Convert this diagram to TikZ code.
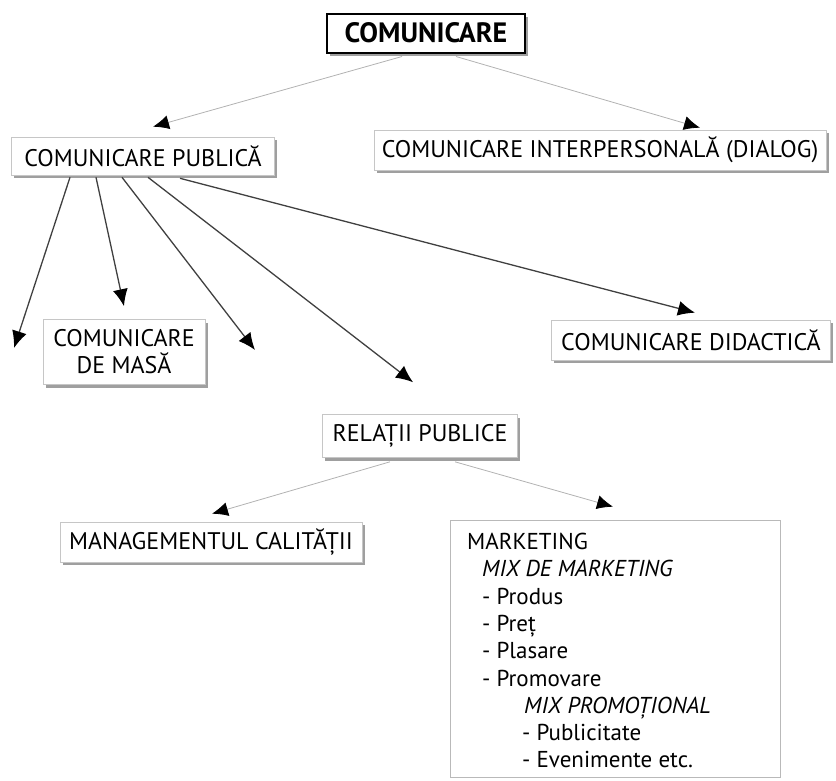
\documentclass[tikz,border=0pt]{standalone}
\usepackage{fontspec}
\setmainfont{PT Sans}
\usetikzlibrary{arrows.meta,shadows}
\begin{document}
\begin{tikzpicture}[x=1pt,y=-1pt,
  box/.style={draw=gray!45, line width=0.6pt, fill=white, inner sep=0pt, align=center,
    font=\fontsize{24}{28}\selectfont,
    drop shadow={shadow xshift=2.5pt,shadow yshift=-3pt,fill=gray!75,opacity=1}},
  topbox/.style={draw=black, line width=2pt, fill=white, inner sep=0pt,
    font=\fontsize{28}{30}\selectfont\bfseries,
    drop shadow={shadow xshift=2.5pt,shadow yshift=-3pt,fill=gray!75,opacity=1}},
  plainbox/.style={draw=gray!55, line width=0.6pt, fill=white, inner sep=0pt},
  lite/.style={draw=gray!60, line width=0.8pt, -{Latex[length=16pt,width=14pt,black]}},
  dark/.style={draw=black!75, line width=1.3pt, -{Latex[length=17pt,width=15pt,black]}},
]
\useasboundingbox (0,0) rectangle (836,780);

\node[topbox, minimum width=198pt, minimum height=39pt] (top) at (426,33) {COMUNICARE};
\node[box, minimum width=263pt, minimum height=38pt] (pub) at (143,156) {COMUNICARE PUBLICĂ};
\node[box, minimum width=452pt, minimum height=40pt] (inter) at (600,150) {COMUNICARE INTERPERSONALĂ (DIALOG)};
\node[box, minimum width=162pt, minimum height=65pt, font=\fontsize{24}{27}\selectfont] (masa) at (124,352) {COMUNICARE\\DE MASĂ};
\node[box, minimum width=279pt, minimum height=40pt] (did) at (691,340) {COMUNICARE DIDACTICĂ};
\node[box, minimum width=195pt, minimum height=43pt] (rel) at (420,436) {RELAȚII PUBLICE};
\node[box, minimum width=302pt, minimum height=40pt] (man) at (211,542) {MANAGEMENTUL CALITĂȚII};
\node[plainbox, minimum width=330pt, minimum height=257pt] (mkt) at (615,648.5) {};
\node[anchor=north west, inner sep=0pt, align=left, font=\fontsize{23}{27.3}\selectfont]
  (mkttext) at (467,533) {MARKETING\\
  \hspace*{15pt}\textit{MIX DE MARKETING}\\
  \hspace*{15pt}- Produs\\
  \hspace*{15pt}- Preț\\
  \hspace*{15pt}- Plasare\\
  \hspace*{15pt}- Promovare\\
  \hspace*{57pt}\textit{MIX PROMOȚIONAL}\\
  \hspace*{55pt}- Publicitate\\
  \hspace*{55pt}- Evenimente etc.};

\coordinate (e1) at (14,348);
\coordinate (e3) at (255,350);

\draw[lite] ([xshift=-24pt,yshift=-3pt]top.south) -- ([xshift=10pt,yshift=10pt]pub.north);
\draw[lite] ([xshift=30pt,yshift=-3pt]top.south) -- ([xshift=100pt,yshift=2pt]inter.north);

\draw[dark] ([xshift=-73pt,yshift=-2pt]pub.south) -- (e1);
\draw[dark] ([xshift=-47pt,yshift=-2pt]pub.south) -- ([yshift=13pt]masa.north);
\draw[dark] ([xshift=-21pt,yshift=-2pt]pub.south) -- (e3);
\draw[dark] ([xshift=5pt,yshift=-2pt]pub.south) -- ([xshift=-7pt,yshift=32pt]rel.north);
\draw[dark] ([xshift=37pt,yshift=-3pt]pub.south) -- ([xshift=4pt,yshift=7pt]did.north);

\draw[lite] ([xshift=-30pt,yshift=-4pt]rel.south) -- ([xshift=1pt,yshift=8pt]man.north);
\draw[lite] ([xshift=35pt,yshift=-4pt]rel.south) -- ([xshift=-2pt,yshift=13pt]mkt.north);
\end{tikzpicture}
\end{document}
